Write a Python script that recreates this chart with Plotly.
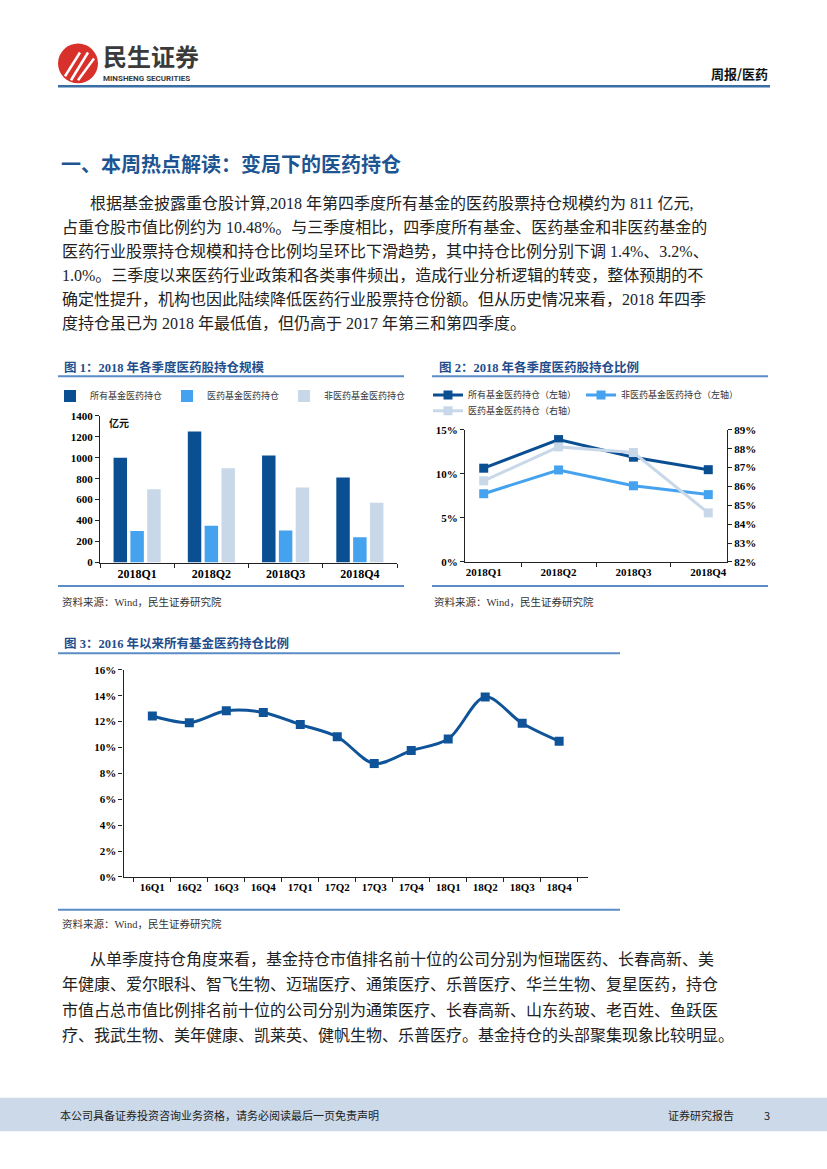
import plotly.graph_objects as go

W, H = 827, 1169

# ---------------- data ----------------
quarters_2018 = ["2018Q1", "2018Q2", "2018Q3", "2018Q4"]
scale_all_funds = [1000, 1250, 1020, 811]
scale_pharma_funds = [300, 350, 305, 240]
scale_nonpharma_funds = [700, 900, 715, 571]

ratio_all_funds = [10.65, 13.9, 11.9, 10.48]
ratio_nonpharma_funds = [7.75, 10.45, 8.65, 7.65]
ratio_pharma_funds = [86.3, 88.1, 87.8, 84.6]

quarters_hist = ["16Q1", "16Q2", "16Q3", "16Q4", "17Q1", "17Q2",
                 "17Q3", "17Q4", "18Q1", "18Q2", "18Q3", "18Q4"]
ratio_hist = [12.43, 11.92, 12.84, 12.71, 11.77, 10.83,
              8.76, 9.76, 10.65, 13.91, 11.87, 10.48]

para1 = [
    "根据基金披露重仓股计算,2018 年第四季度所有基金的医药股票持仓规模约为 811 亿元,",
    "占重仓股市值比例约为 10.48%。与三季度相比，四季度所有基金、医药基金和非医药基金的",
    "医药行业股票持仓规模和持仓比例均呈环比下滑趋势，其中持仓比例分别下调 1.4%、3.2%、",
    "1.0%。三季度以来医药行业政策和各类事件频出，造成行业分析逻辑的转变，整体预期的不",
    "确定性提升，机构也因此陆续降低医药行业股票持仓份额。但从历史情况来看，2018 年四季",
    "度持仓虽已为 2018 年最低值，但仍高于 2017 年第三和第四季度。",
]
para2 = [
    "从单季度持仓角度来看，基金持仓市值排名前十位的公司分别为恒瑞医药、长春高新、美",
    "年健康、爱尔眼科、智飞生物、迈瑞医疗、通策医疗、乐普医疗、华兰生物、复星医药，持仓",
    "市值占总市值比例排名前十位的公司分别为通策医疗、长春高新、山东药玻、老百姓、鱼跃医",
    "疗、我武生物、美年健康、凯莱英、健帆生物、乐普医疗。基金持仓的头部聚集现象比较明显。",
]

# ---------------- style ----------------
DARK = "#0b4f93"
LIGHT = "#45a2ef"
PALE = "#c9d8e9"
LINE3 = "#0f5499"
RULE = "#5a8cc6"
TITLE_BLUE = "#1f4e8c"
CJK = "Noto Sans CJK SC"
MIX = "Liberation Serif, Noto Sans CJK SC"


def px(x):
    return x / W


def py(y):
    return 1 - y / H


fig = go.Figure()

# Chart 1 bars
fig.add_trace(go.Bar(x=quarters_2018, y=scale_all_funds, name="所有基金医药持仓",
                     marker=dict(color=DARK, line_width=0), xaxis="x", yaxis="y", legend="legend"))
fig.add_trace(go.Bar(x=quarters_2018, y=scale_pharma_funds, name="医药基金医药持仓",
                     marker=dict(color=LIGHT, line_width=0), xaxis="x", yaxis="y", legend="legend"))
fig.add_trace(go.Bar(x=quarters_2018, y=scale_nonpharma_funds, name="非医药基金医药持仓",
                     marker=dict(color=PALE, line_width=0), xaxis="x", yaxis="y", legend="legend"))

# Chart 2 lines
fig.add_trace(go.Scatter(x=quarters_2018, y=ratio_all_funds, name="所有基金医药持仓（左轴）",
                         mode="lines+markers", line=dict(color=DARK, width=3),
                         marker=dict(symbol="square", size=9, color=DARK),
                         xaxis="x2", yaxis="y2", legend="legend2"))
fig.add_trace(go.Scatter(x=quarters_2018, y=ratio_nonpharma_funds, name="非医药基金医药持仓（左轴）",
                         mode="lines+markers", line=dict(color=LIGHT, width=3),
                         marker=dict(symbol="square", size=9, color=LIGHT),
                         xaxis="x2", yaxis="y2", legend="legend2"))
fig.add_trace(go.Scatter(x=quarters_2018, y=ratio_pharma_funds, name="医药基金医药持仓（右轴）",
                         mode="lines+markers", line=dict(color=PALE, width=3),
                         marker=dict(symbol="square", size=9, color=PALE),
                         xaxis="x2", yaxis="y3", legend="legend3"))

# Chart 3 smooth line
fig.add_trace(go.Scatter(x=quarters_hist, y=ratio_hist, name="所有基金医药持仓比例",
                         mode="lines+markers",
                         line=dict(color=LINE3, width=3, shape="spline", smoothing=0.9),
                         marker=dict(symbol="square", size=9, color=LINE3),
                         xaxis="x3", yaxis="y4", showlegend=False))

tickfont = dict(family="Liberation Serif", size=11, color="#000", weight="bold")
ax = dict(showgrid=False, zeroline=False, showline=True, linecolor="#222", linewidth=1.3,
          ticks="outside", ticklen=4, tickwidth=1.2, tickcolor="#222",
          tickfont=tickfont, fixedrange=True)

legend_font = dict(family=CJK, size=9, color="#333")

fig.update_layout(
    width=W, height=H, margin=dict(l=0, r=0, t=0, b=0),
    paper_bgcolor="white", plot_bgcolor="white",
    barmode="group", bargap=0.32, bargroupgap=0.2,
    xaxis=dict(ax, domain=[px(100), px(397)], anchor="y", type="category",
               tickson="boundaries", tickfont=dict(tickfont, size=12)),
    yaxis=dict(ax, domain=[py(562.3), py(414)], anchor="x", range=[0, 1400], dtick=200),
    xaxis2=dict(ax, domain=[px(465), px(727)], anchor="y2", type="category", tickson="boundaries"),
    yaxis2=dict(ax, domain=[py(561.7), py(428.3)], anchor="x2", range=[0, 15], dtick=5,
                ticksuffix="%"),
    yaxis3=dict(ax, overlaying="y2", side="right", anchor="x2", range=[82, 89], dtick=1,
                ticksuffix="%"),
    xaxis3=dict(ax, domain=[px(123.5), px(588)], anchor="y4", type="category", tickson="boundaries"),
    yaxis4=dict(ax, domain=[py(880), py(670.7)], anchor="x3", range=[0, 16], dtick=2,
                ticksuffix="%"),
    legend=dict(orientation="h", x=px(50), y=py(394), xanchor="left", yanchor="middle",
                font=legend_font, bgcolor="rgba(0,0,0,0)",
                itemwidth=30, traceorder="normal"),
    legend2=dict(orientation="h", x=px(428), y=py(393), xanchor="left", yanchor="middle",
                 font=legend_font, bgcolor="rgba(0,0,0,0)",
                 itemwidth=30, traceorder="normal"),
    legend3=dict(orientation="h", x=px(428), y=py(409), xanchor="left", yanchor="middle",
                 font=legend_font, bgcolor="rgba(0,0,0,0)",
                 itemwidth=30),
)

shapes = []


def hline(x0, x1, y, color, width):
    shapes.append(dict(type="line", xref="paper", yref="paper", x0=px(x0), x1=px(x1),
                       y0=py(y), y1=py(y), line=dict(color=color, width=width)))


# header rule
hline(58, 770, 81, "#3a6ea5", 2.5)
# chart rules
hline(58, 404, 374, RULE, 2)
hline(58, 404, 586, RULE, 2)
hline(432, 768, 374, RULE, 2)
hline(432, 768, 586, RULE, 2)
hline(58, 620, 654, RULE, 2)
hline(58, 620, 913, RULE, 2)
# footer band
shapes.append(dict(type="rect", xref="paper", yref="paper", x0=0, x1=1, y0=py(1137), y1=py(1103),
                   fillcolor="#cbd9e9", line_width=0, layer="below"))
# logo circle
shapes.append(dict(type="circle", xref="paper", yref="paper", x0=px(58), x1=px(98),
                   y0=py(78), y1=py(38), fillcolor="#d8302b", line_width=0))
for (a, b, c, d) in [(65, 71, 80, 47), (71, 75, 88, 47), (78, 75, 94, 53)]:
    shapes.append(dict(type="line", xref="paper", yref="paper", x0=px(a), y0=py(b),
                       x1=px(c), y1=py(d), line=dict(color="white", width=2.5)))
fig.update_layout(shapes=shapes)

ann = []


def text(x, y, s, size, color="#222", family=MIX, bold=False, xanchor="left"):
    ann.append(dict(x=px(x), y=py(y), xref="paper", yref="paper", text=s, showarrow=False,
                    xanchor=xanchor, yanchor="middle",
                    font=dict(family=family, size=size, color=color,
                              weight="bold" if bold else "normal")))


text(101, 50, "民生证券", 24, "#3a3a3a", CJK, True)
text(101, 73, "MINSHENG SECURITIES", 8, "#3a3a3a", "Roboto", True)
text(770, 68, "周报/医药", 13, "#111", CJK, True, "right")

text(59, 159, "一、本周热点解读：变局下的医药持仓", 20, "#1d5592", CJK, True)

p1_y = [199, 223.5, 248, 272.5, 297, 321]
for i, (s, y) in enumerate(zip(para1, p1_y)):
    text(88 if i == 0 else 60, y, s, 16, "#222")

text(62, 365, "图 1：2018 年各季度医药股持仓规模", 12.5, TITLE_BLUE, MIX, True)
text(437, 365, "图 2：2018 年各季度医药股持仓比例", 12.5, TITLE_BLUE, MIX, True)
text(62, 644, "图 3：2016 年以来所有基金医药持仓比例", 12.5, TITLE_BLUE, MIX, True)

text(107, 421, "亿元", 10, "#111", CJK, True)

text(60, 602, "资料来源：Wind，民生证券研究院", 10.5, "#333")
text(432, 602, "资料来源：Wind，民生证券研究院", 10.5, "#333")
text(60, 928, "资料来源：Wind，民生证券研究院", 10.5, "#333")

p2_y = [963, 989, 1015, 1040]
for i, (s, y) in enumerate(zip(para2, p2_y)):
    text(88 if i == 0 else 60, y, s, 16, "#222")

text(58, 1121, "本公司具备证券投资咨询业务资格，请务必阅读最后一页免责声明", 11, "#222", CJK)
text(666, 1121, "证券研究报告", 11, "#222", CJK)
text(762, 1121, "3", 11, "#222", CJK)

fig.update_layout(annotations=ann)

fig.write_html("out.html", config={"displayModeBar": False},
               post_script="document.body.style.margin='0';document.body.style.overflow='hidden';")
